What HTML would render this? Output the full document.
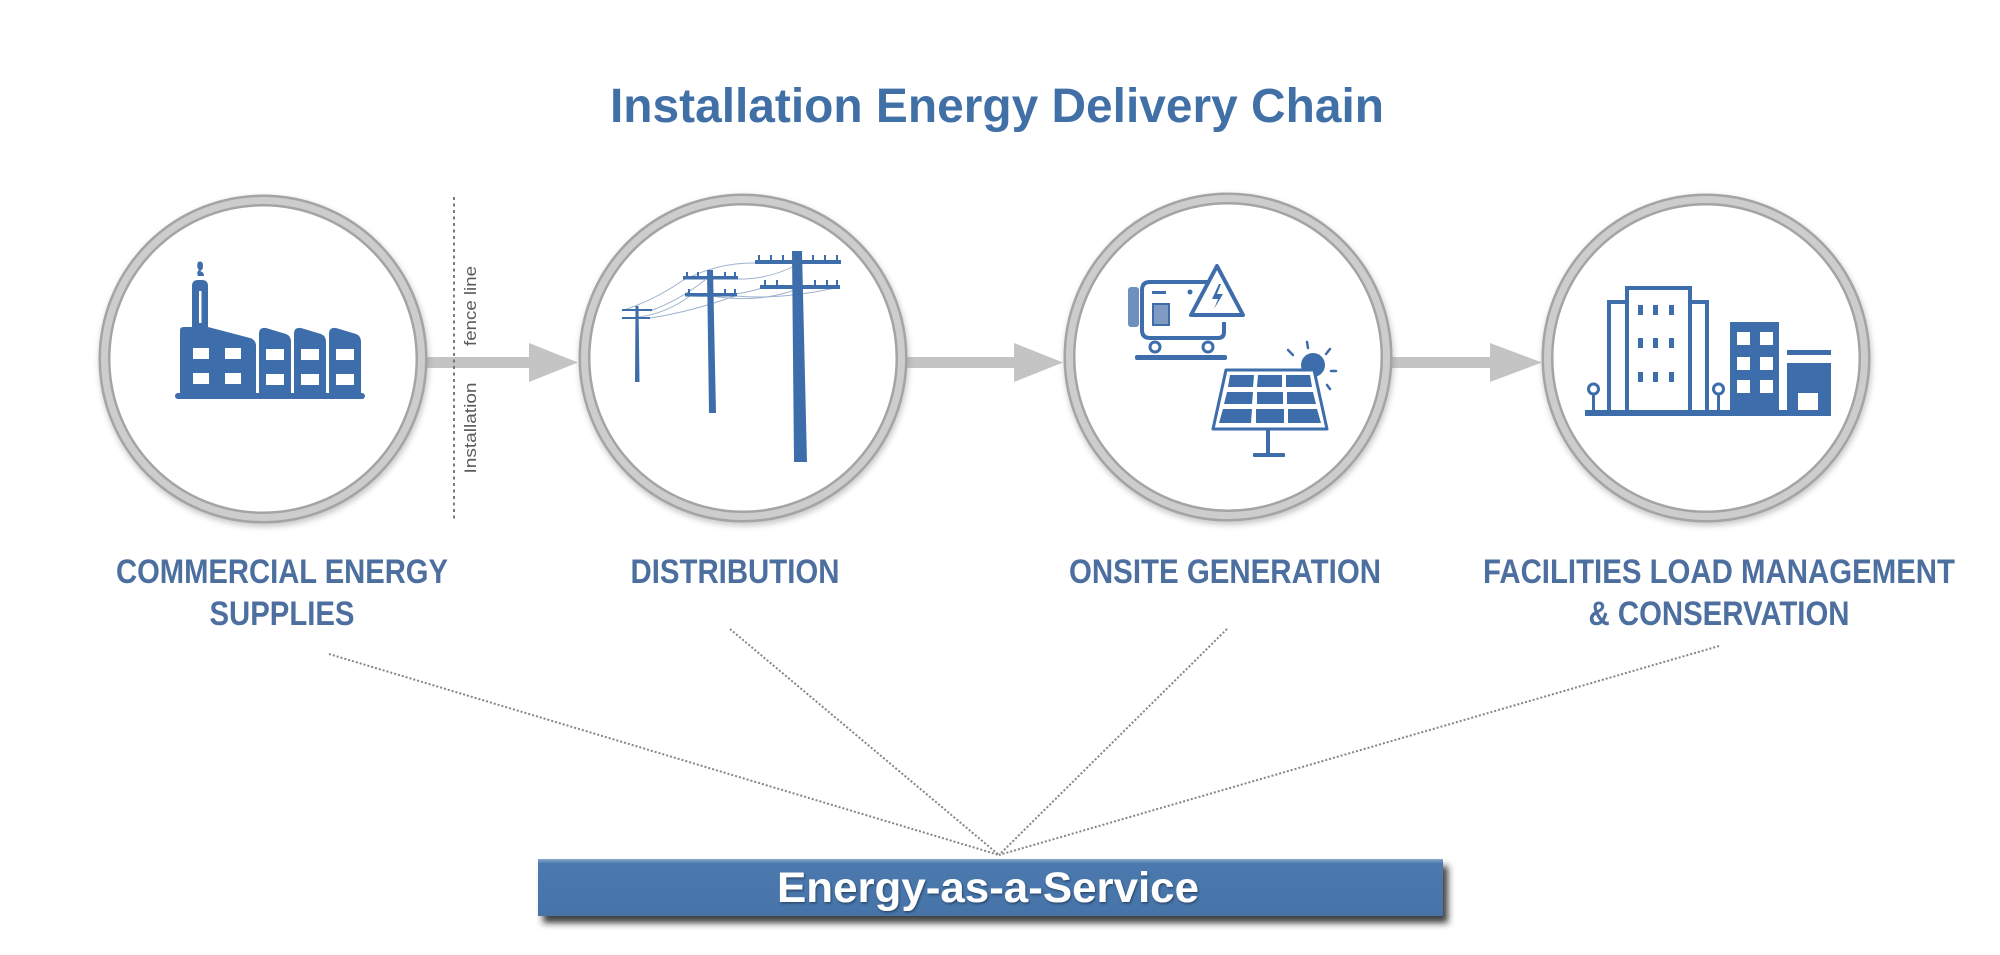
<!DOCTYPE html>
<html>
<head>
<meta charset="utf-8">
<style>
  html,body{margin:0;padding:0;background:#ffffff;}
  body{width:2000px;height:955px;overflow:hidden;}
  svg{display:block;}
  text{font-family:"Liberation Sans", Arial, sans-serif;}
</style>
</head>
<body>
<svg width="2000" height="955" viewBox="0 0 2000 955" xmlns="http://www.w3.org/2000/svg">
  <defs>
    <filter id="ringShadow" x="-20%" y="-20%" width="140%" height="140%">
      <feGaussianBlur stdDeviation="3"/>
    </filter>
    <filter id="barShadow" x="-5%" y="-30%" width="110%" height="180%">
      <feDropShadow dx="5" dy="7" stdDeviation="3.5" flood-color="#1e1e1e" flood-opacity="0.85"/>
    </filter>
    <filter id="txtShadow" x="-5%" y="-30%" width="110%" height="160%">
      <feDropShadow dx="1" dy="1.5" stdDeviation="1" flood-color="#1a3050" flood-opacity="0.7"/>
    </filter>
    <linearGradient id="barGrad" x1="0" y1="0" x2="0" y2="1">
      <stop offset="0" stop-color="#8aa8cf"/>
      <stop offset="0.08" stop-color="#4c79ae"/>
      <stop offset="1" stop-color="#4673a8"/>
    </linearGradient>
  </defs>

  <!-- Title -->
  <text x="997" y="122" text-anchor="middle" font-size="48" font-weight="bold" fill="#4170a6" textLength="774" lengthAdjust="spacingAndGlyphs">Installation Energy Delivery Chain</text>

  <!-- Arrows -->
  <g fill="#c4c4c4">
    <rect x="425" y="357" width="107" height="11"/>
    <polygon points="529,343 578,362.5 529,382"/>
    <rect x="905" y="357" width="112" height="11"/>
    <polygon points="1014,343 1063,362.5 1014,382"/>
    <rect x="1388" y="357" width="105" height="11"/>
    <polygon points="1490,343 1542,362.5 1490,382"/>
  </g>

  <!-- Circles -->
  <g>
    <g filter="url(#ringShadow)" opacity="0.45">
      <circle cx="264" cy="362" r="159" fill="none" stroke="#8a8a8a" stroke-width="12"/>
      <circle cx="744" cy="361" r="159" fill="none" stroke="#8a8a8a" stroke-width="12"/>
      <circle cx="1229" cy="360" r="159" fill="none" stroke="#8a8a8a" stroke-width="12"/>
      <circle cx="1707" cy="361" r="159" fill="none" stroke="#8a8a8a" stroke-width="12"/>
    </g>
    <g fill="#ffffff" stroke="#a4a4a4" stroke-width="12">
      <circle cx="263" cy="359" r="158.5"/>
      <circle cx="743" cy="358" r="158.5"/>
      <circle cx="1228" cy="357" r="158.5"/>
      <circle cx="1706" cy="358" r="158.5"/>
    </g>
    <g fill="none" stroke="#cdcdcd" stroke-width="7">
      <circle cx="263" cy="359" r="158.5"/>
      <circle cx="743" cy="358" r="158.5"/>
      <circle cx="1228" cy="357" r="158.5"/>
      <circle cx="1706" cy="358" r="158.5"/>
    </g>
  </g>

  <!-- Fence line -->
  <line x1="454" y1="197" x2="454" y2="521" stroke="#6e6e6e" stroke-width="1.8" stroke-dasharray="3 3.5"/>
  <text transform="translate(476,306) rotate(-90)" text-anchor="middle" font-size="17" fill="#5a5a5a" textLength="80" lengthAdjust="spacingAndGlyphs">fence line</text>
  <text transform="translate(476,428) rotate(-90)" text-anchor="middle" font-size="17" fill="#5a5a5a" textLength="91" lengthAdjust="spacingAndGlyphs">Installation</text>

  <!-- Icon 1: Factory -->
  <g fill="#3d6daa">
    <rect x="175" y="393" width="190" height="6" rx="3"/>
    <!-- smoke -->
    <path d="M198,262 q5,-2 5,4 q0,4 -3,5 q4,1 4,5 l-6,0 q-2,-4 1,-6 q-3,-3 -1,-8z"/>
    <!-- main block with chimney -->
    <path d="M180,396 L180,330 Q180,327 184,327 L192,327 L192,286 Q192,280 198,280 L202,280 Q208,280 208,286 L208,327 L250,338 Q256,340 256,346 L256,396 Z"/>
    <!-- sawtooth sections -->
    <path d="M259,396 L259,334 Q259,327 266,328 L286,334 Q291,336 291,342 L291,396 Z"/>
    <path d="M294,396 L294,334 Q294,327 301,328 L321,334 Q326,336 326,342 L326,396 Z"/>
    <path d="M329,396 L329,334 Q329,327 336,328 L356,334 Q361,336 361,342 L361,396 Z"/>
  </g>
  <g fill="#ffffff">
    <rect x="199" y="291" width="2.5" height="32"/>
    <rect x="193" y="348" width="16" height="11"/>
    <rect x="225" y="348" width="16" height="11"/>
    <rect x="193" y="373" width="16" height="11"/>
    <rect x="225" y="373" width="16" height="11"/>
    <rect x="266" y="349" width="18" height="11"/>
    <rect x="301" y="349" width="18" height="11"/>
    <rect x="336" y="349" width="18" height="11"/>
    <rect x="266" y="374" width="18" height="11"/>
    <rect x="301" y="374" width="18" height="11"/>
    <rect x="336" y="374" width="18" height="11"/>
  </g>

  <!-- Icon 2: Power poles -->
  <g fill="none" stroke="#9fb2cf" stroke-width="1">
    <path d="M624,310 Q655,300 685,279"/>
    <path d="M650,311 Q680,300 705,280"/>
    <path d="M624,318 Q660,318 690,296"/>
    <path d="M650,318 Q690,312 735,296"/>
    <path d="M686,279 Q720,262 757,263"/>
    <path d="M736,279 Q770,280 800,263"/>
    <path d="M690,296 Q730,298 762,288"/>
    <path d="M736,296 Q780,300 835,288"/>
    <path d="M712,296 Q760,304 800,288"/>
  </g>
  <g fill="#3d6daa">
    <!-- pole 1 -->
    <polygon points="635.5,306 638.5,306 639.5,382 635,382"/>
    <rect x="622" y="309" width="30" height="2"/>
    <rect x="622" y="317" width="28" height="2"/>
    <!-- pole 2 -->
    <polygon points="707,270 713,270 716,413 709,413"/>
    <rect x="683" y="276" width="55" height="3.5"/>
    <rect x="685" y="293" width="52" height="3.5"/>
    <rect x="686" y="272" width="2" height="5"/><rect x="697" y="272" width="2" height="5"/><rect x="724" y="272" width="2" height="5"/><rect x="734" y="272" width="2" height="5"/>
    <rect x="688" y="289" width="2" height="5"/><rect x="724" y="289" width="2" height="5"/><rect x="734" y="289" width="2" height="5"/>
    <!-- pole 3 -->
    <polygon points="792,251 802,251 807,462 794,462"/>
    <rect x="755" y="260" width="86" height="4"/>
    <rect x="760" y="285" width="80" height="4"/>
    <rect x="758" y="255" width="2" height="6"/><rect x="770" y="255" width="2" height="6"/><rect x="782" y="255" width="2" height="6"/><rect x="812" y="255" width="2" height="6"/><rect x="824" y="255" width="2" height="6"/><rect x="836" y="255" width="2" height="6"/>
    <rect x="764" y="280" width="2" height="6"/><rect x="776" y="280" width="2" height="6"/><rect x="814" y="280" width="2" height="6"/><rect x="826" y="280" width="2" height="6"/><rect x="836" y="280" width="2" height="6"/>
  </g>

  <!-- Icon 3: Generator + Solar -->
  <g>
    <rect x="1128" y="287" width="11" height="40" rx="3" fill="#6e8fbf"/>
    <path d="M1215,282 L1150,282 Q1142,282 1142,290 L1142,330 Q1142,338 1150,338 L1218,338 Q1224,338 1224,332 L1224,322" fill="none" stroke="#3d6daa" stroke-width="4"/>
    <rect x="1152" y="291" width="14" height="3" fill="#3d6daa"/>
    <circle cx="1190" cy="292" r="2.5" fill="#3d6daa"/>
    <rect x="1153" y="304" width="16" height="21" fill="#7f9bc4" stroke="#3d6daa" stroke-width="2"/>
    <circle cx="1155" cy="347" r="5" fill="#fff" stroke="#3d6daa" stroke-width="3"/>
    <circle cx="1208" cy="347" r="5" fill="#fff" stroke="#3d6daa" stroke-width="3"/>
    <rect x="1135" y="355" width="92" height="5" rx="2" fill="#3d6daa"/>
    <polygon points="1217,266 1243,315 1191,315" fill="#fff" stroke="#3d6daa" stroke-width="4" stroke-linejoin="round"/>
    <path d="M1219,284 L1212,299 L1218,299 L1214,309 L1223,294 L1217,294 L1221,284 Z" fill="#3d6daa"/>
    <!-- sun -->
    <circle cx="1313" cy="365" r="12" fill="#3d6daa"/>
    <g stroke="#3d6daa" stroke-width="2.5" stroke-linecap="round">
      <line x1="1307" y1="342" x2="1308" y2="348"/>
      <line x1="1288" y1="350" x2="1293" y2="355"/>
      <line x1="1330" y1="349" x2="1326" y2="354"/>
      <line x1="1336" y1="371" x2="1331" y2="371"/>
      <line x1="1330" y1="389" x2="1327" y2="385"/>
    </g>
    <!-- panel -->
    <polygon points="1226,370 1314,370 1327,429 1213,429" fill="#fff" stroke="#3d6daa" stroke-width="3" stroke-linejoin="round"/>
    <g fill="#3d6daa">
      <polygon points="1230,375 1254,375 1253,387 1228,387"/>
      <polygon points="1258,375 1282,375 1282,387 1257,387"/>
      <polygon points="1286,375 1310,375 1312,387 1286,387"/>
      <polygon points="1227,392 1253,392 1252,404 1224,404"/>
      <polygon points="1257,392 1283,392 1283,404 1257,404"/>
      <polygon points="1287,392 1313,392 1316,404 1287,404"/>
      <polygon points="1223,409 1252,409 1251,423 1219,423"/>
      <polygon points="1256,409 1284,409 1284,423 1256,423"/>
      <polygon points="1288,409 1317,409 1321,423 1288,423"/>
      <rect x="1266" y="429" width="4" height="26"/>
      <rect x="1253" y="453" width="32" height="4" rx="1"/>
    </g>
  </g>

  <!-- Icon 4: Buildings -->
  <g>
    <rect x="1585" y="410" width="246" height="6" fill="#3d6daa"/>
    <rect x="1609" y="302" width="20" height="110" fill="#fff" stroke="#3d6daa" stroke-width="4"/>
    <rect x="1688" y="302" width="19" height="110" fill="#fff" stroke="#3d6daa" stroke-width="4"/>
    <rect x="1627" y="288" width="63" height="124" fill="#fff" stroke="#3d6daa" stroke-width="4"/>
    <g fill="#3d6daa">
      <rect x="1638" y="305" width="5" height="10"/><rect x="1653" y="305" width="5" height="10"/><rect x="1669" y="305" width="5" height="10"/>
      <rect x="1638" y="338" width="5" height="10"/><rect x="1653" y="338" width="5" height="10"/><rect x="1669" y="338" width="5" height="10"/>
      <rect x="1638" y="372" width="5" height="10"/><rect x="1653" y="372" width="5" height="10"/><rect x="1669" y="372" width="5" height="10"/>
      <rect x="1592" y="393" width="3" height="18"/>
      <rect x="1717" y="393" width="3" height="18"/>
      <rect x="1730" y="322" width="49" height="90"/>
      <rect x="1787" y="350" width="44" height="5"/>
      <rect x="1787" y="363" width="44" height="49"/>
    </g>
    <circle cx="1593.5" cy="389" r="5" fill="#fff" stroke="#3d6daa" stroke-width="3"/>
    <circle cx="1718.5" cy="389" r="5" fill="#fff" stroke="#3d6daa" stroke-width="3"/>
    <g fill="#fff">
      <rect x="1737" y="332" width="13" height="13"/><rect x="1760" y="332" width="13" height="13"/>
      <rect x="1737" y="357" width="13" height="13"/><rect x="1760" y="357" width="13" height="13"/>
      <rect x="1737" y="380" width="13" height="13"/><rect x="1760" y="380" width="13" height="13"/>
      <rect x="1798" y="393" width="20" height="17"/>
    </g>
  </g>

  <!-- Labels -->
  <g font-size="34" font-weight="bold" fill="#4c6f9f" text-anchor="middle">
    <text x="282" y="583" textLength="332" lengthAdjust="spacingAndGlyphs">COMMERCIAL ENERGY</text>
    <text x="282" y="625" textLength="145" lengthAdjust="spacingAndGlyphs">SUPPLIES</text>
    <text x="735" y="583" textLength="209" lengthAdjust="spacingAndGlyphs">DISTRIBUTION</text>
    <text x="1225" y="583" textLength="312" lengthAdjust="spacingAndGlyphs">ONSITE GENERATION</text>
    <text x="1719" y="583" textLength="472" lengthAdjust="spacingAndGlyphs">FACILITIES LOAD MANAGEMENT</text>
    <text x="1719" y="625" textLength="261" lengthAdjust="spacingAndGlyphs">&amp; CONSERVATION</text>
  </g>

  <!-- Dotted connectors -->
  <g fill="none" stroke="#858585" stroke-width="2" stroke-dasharray="2 2">
    <line x1="329" y1="654" x2="999" y2="855"/>
    <line x1="730" y1="629" x2="999" y2="855"/>
    <line x1="1227" y1="629" x2="999" y2="855"/>
    <line x1="1719" y1="646" x2="999" y2="855"/>
  </g>

  <!-- Energy-as-a-Service bar -->
  <rect x="538" y="859" width="905" height="57" fill="url(#barGrad)" filter="url(#barShadow)"/>
  <text x="988" y="902" text-anchor="middle" font-size="43" font-weight="bold" fill="#ffffff" textLength="422" lengthAdjust="spacingAndGlyphs" filter="url(#txtShadow)">Energy-as-a-Service</text>
</svg>
</body>
</html>
